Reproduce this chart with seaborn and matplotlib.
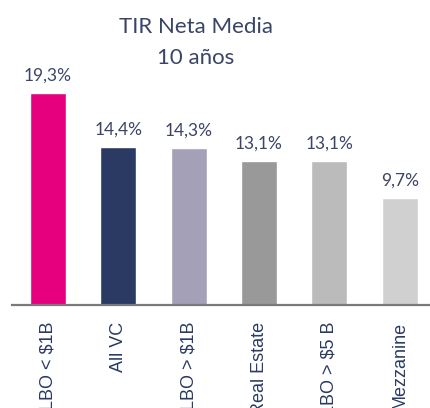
import matplotlib
matplotlib.use("Agg")
import matplotlib.pyplot as plt
import seaborn as sns
import pandas as pd

categories = ["LBO < $1B", "All VC", "LBO > $1B", "Real Estate", "LBO > $5 B", "Mezzanine"]
values = [19.3, 14.4, 14.3, 13.1, 13.1, 9.7]
value_labels = ["19,3%", "14,4%", "14,3%", "13,1%", "13,1%", "9,7%"]
colors = ["#E6007E", "#2B3A63", "#A3A0B8", "#999999", "#BBBBBB", "#D0D0D0"]
title_lines = ["TIR Neta Media", "10 años"]

sns.set_style("white")
plt.rcParams["font.family"] = ["Lato", "DejaVu Sans"]

df = pd.DataFrame({"cat": categories, "val": values})

fig = plt.figure(figsize=(4.30, 4.08), dpi=100)
ax = fig.add_axes([0.028, 0.2525, 0.972, 0.7475])
sns.barplot(data=df, x="cat", y="val", hue="cat", palette=colors, legend=False,
            width=0.51, ax=ax, saturation=1)

ax.set_xlim(-0.51, 5.43)
ax.set_ylim(0, 27.78)
for i, c in enumerate(ax.containers):
    ax.bar_label(c, labels=[value_labels[i]], padding=7, fontsize=12.5,
                 color="#3D4566", family=["Lato", "DejaVu Sans"])

for s in ["top", "right", "left"]:
    ax.spines[s].set_visible(False)
ax.spines["bottom"].set_color("#7A7A7A")
ax.spines["bottom"].set_linewidth(1.6)
ax.set_yticks([])
ax.set_xlabel("")
ax.set_ylabel("")
ax.tick_params(axis="x", length=0, pad=12)
for lab in ax.get_xticklabels():
    lab.set_rotation(90)
    lab.set_fontsize(13)
    lab.set_family(["Liberation Sans", "DejaVu Sans"])
    lab.set_color("#2B3A63")
    lab.set_va("top")
    lab.set_ha("center")

fig.text(196 / 430, 1 - 27 / 408, title_lines[0], ha="center", va="center",
         fontsize=16, color="#3A4466")
fig.text(196 / 430, 1 - 58 / 408, title_lines[1], ha="center", va="center",
         fontsize=16, color="#3A4466")

fig.savefig("out.png", dpi=100)
